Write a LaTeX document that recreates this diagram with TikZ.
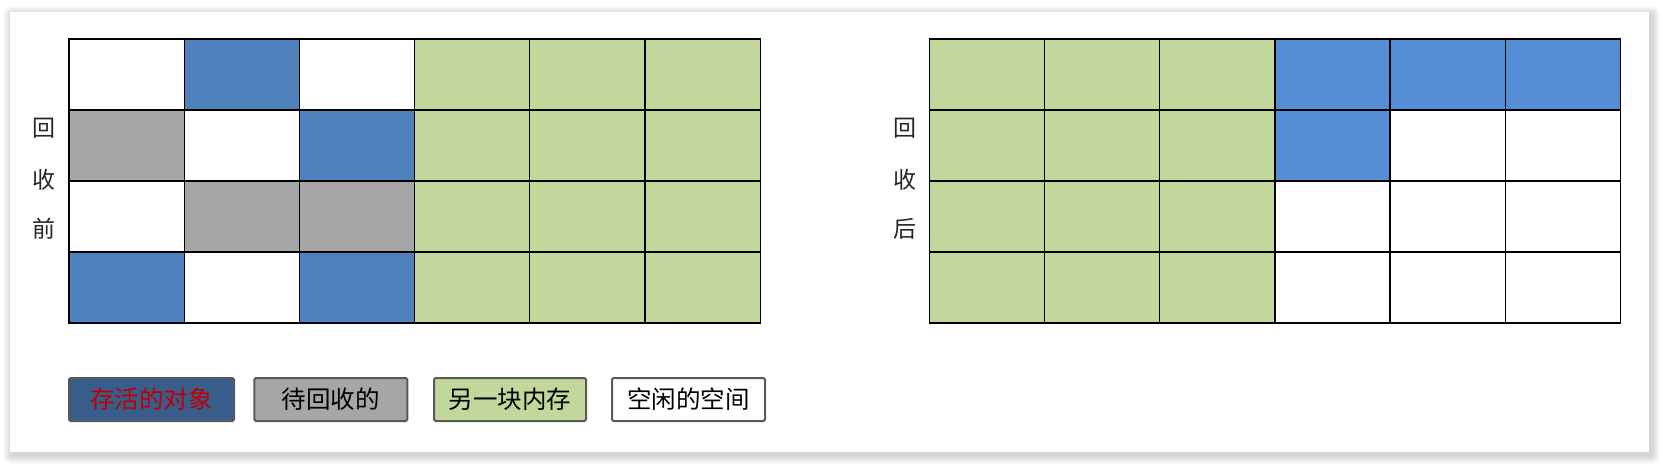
\documentclass[tikz,border=0pt]{standalone}
\usepackage{fontspec}
\newfontfamily\cjk{Noto Sans CJK SC}
\definecolor{cW}{HTML}{FFFFFF}
\definecolor{cB}{HTML}{4F81BD}
\definecolor{cR}{HTML}{558ED5}
\definecolor{cY}{HTML}{A6A6A6}
\definecolor{cG}{HTML}{C3D69B}
\definecolor{cD}{HTML}{385D8A}
\definecolor{lgborder}{HTML}{595959}
\definecolor{labelc}{HTML}{262626}
\definecolor{alive}{HTML}{C00000}
\begin{document}
\begin{tikzpicture}[x=1pt,y=-1pt,
  cell/.style={draw=black,line width=1.3pt,inner sep=0pt,outer sep=0pt,
    minimum width=115.2pt,minimum height=71pt,anchor=north west},
  legendbox/.style={draw=lgborder,line width=2pt,rounded corners=1.5pt,inner sep=0pt,
    minimum height=43pt,font=\cjk\fontsize{24.5}{26}\selectfont,text=black},
  sidelabel/.style={font=\cjk\fontsize{23}{25}\selectfont,text=labelc,inner sep=0pt}]
\useasboundingbox (0,0) rectangle (1663,467);
% shadow of the card
\foreach \s in {9,8,7,6,5,4,3,2,1}
  \fill[black,opacity=0.018,rounded corners=\s pt] (10-\s+2,12-\s+3) rectangle (1649+\s+2,452+\s+3);
\fill[white] (10,12) rectangle (1649,452);
% left grid (before)
\foreach \row [count=\r from 0] in {{W,B,W,G,G,G},{Y,W,B,G,G,G},{W,Y,Y,G,G,G},{B,W,B,G,G,G}}
  \foreach \col [count=\c from 0] in \row
    \node[cell,fill=c\col] (L-\r-\c) at (69+\c*115.2,39+\r*71) {};
% right grid (after)
\foreach \row [count=\r from 0] in {{G,G,G,R,R,R},{G,G,G,R,W,W},{G,G,G,W,W,W},{G,G,G,W,W,W}}
  \foreach \col [count=\c from 0] in \row
    \node[cell,fill=c\col] (R-\r-\c) at (929.3+\c*115.2,39+\r*71) {};
% side labels
\node[sidelabel] (l1) at (44,128) {回};
\node[sidelabel] (l2) at (44,180) {收};
\node[sidelabel] (l3) at (44,229) {前};
\node[sidelabel] (r1) at (905,128) {回};
\node[sidelabel] (r2) at (905,180) {收};
\node[sidelabel] (r3) at (905,229) {后};
% legend
\node[legendbox,fill=cD,minimum width=165pt,text=alive] (lg1) at (151.5,399.5) {存活的对象};
\node[legendbox,fill=cY,minimum width=153pt] (lg2) at (330.8,399.5) {待回收的};
\node[legendbox,fill=cG,minimum width=152pt] (lg3) at (510,399.5) {另一块内存};
\node[legendbox,fill=white,minimum width=153pt] (lg4) at (688.5,399.5) {空闲的空间};
\end{tikzpicture}
\end{document}
